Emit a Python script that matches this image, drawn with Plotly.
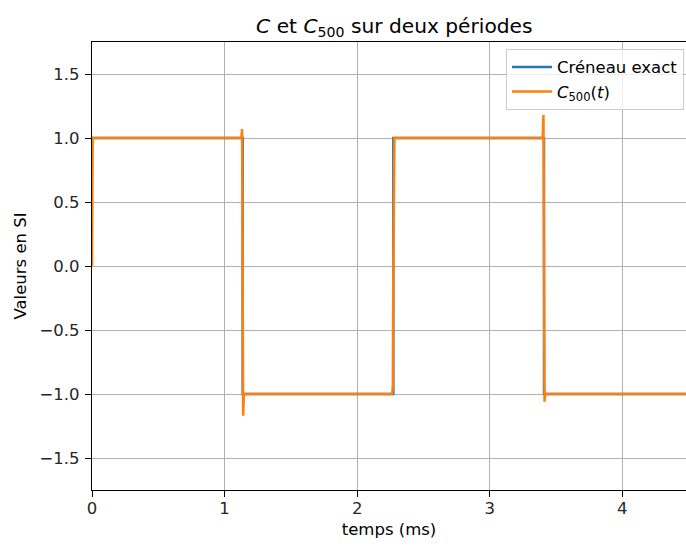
import plotly.graph_objects as go

# ---- data (time in ms, values in SI) ----
t_exact = [0.0, 1.1364, 1.1364, 2.2727, 2.2727, 3.4091, 3.4091, 4.5455]
v_exact = [1.0, 1.0, -1.0, -1.0, 1.0, 1.0, -1.0, -1.0]

t_c500 = [0.0, 0.002, 0.005, 1.126, 1.132, 1.140, 1.146,
          2.264, 2.269, 2.2727, 2.276, 2.281,
          3.399, 3.405, 3.413, 3.419, 4.5455]
v_c500 = [0.0, 0.95, 1.0, 1.0, 1.07, -1.17, -1.0,
          -1.0, -0.93, 0.0, 0.93, 1.0,
          1.0, 1.18, -1.06, -1.0, -1.0]

x_ticks = [0, 1, 2, 3, 4]
y_ticks = [-1.5, -1.0, -0.5, 0.0, 0.5, 1.0, 1.5]

FONT = "DejaVu Sans"
W, H = 686, 546
ML, MT, MB = 92, 42, 56

fig = go.Figure()
fig.add_trace(go.Scatter(x=t_exact, y=v_exact, mode="lines", name="Créneau exact",
                         line=dict(color="#1f77b4", width=2.5)))
fig.add_trace(go.Scatter(x=t_c500, y=v_c500, mode="lines",
                         name="<i>C</i><sub>500</sub>(<i>t</i>)",
                         line=dict(color="#ff7f0e", width=2.5)))

axis_common = dict(showgrid=True, gridcolor="#b0b0b0", gridwidth=1.3,
                   showline=True, linecolor="black", linewidth=1.3,
                   ticks="outside", ticklen=6, tickwidth=1.3, tickcolor="black",
                   zeroline=False, tickfont=dict(family=FONT, size=16.5, color="#262626"))

fig.update_xaxes(range=[0, 4.48], tickvals=x_ticks, tickformat="d", mirror=True,
                 ticklabelstandoff=-3,
                 title=dict(text="temps (ms)", font=dict(family=FONT, size=16.5, color="black"),
                            standoff=6),
                 **axis_common)
fig.update_yaxes(range=[-1.75, 1.75], tickvals=y_ticks, tickformat=".1f", mirror=False,
                 ticklabelstandoff=2,
                 title=dict(text="Valeurs en SI", font=dict(family=FONT, size=16.5, color="black"),
                            standoff=8),
                 **axis_common)

fig.update_layout(
    width=W, height=H,
    margin=dict(l=ML, r=0, t=MT, b=MB, pad=0),
    plot_bgcolor="white", paper_bgcolor="white",
    font=dict(family=FONT, color="black"),
    title=dict(text="<i>C</i> et <i>C</i><sub>500</sub> sur deux périodes",
               font=dict(family=FONT, size=20.2, color="black"),
               x=0.509, xanchor="center", xref="paper",
               y=1, yref="paper", yanchor="bottom", pad=dict(b=9)),
    legend=dict(x=0.9966, y=0.985, xanchor="right", yanchor="top",
                bgcolor="rgba(255,255,255,0.8)", bordercolor="#cccccc", borderwidth=1,
                font=dict(family=FONT, size=16.5, color="black"),
                itemwidth=40, tracegroupgap=2),
    showlegend=True,
)

fig.write_html("out.html")
